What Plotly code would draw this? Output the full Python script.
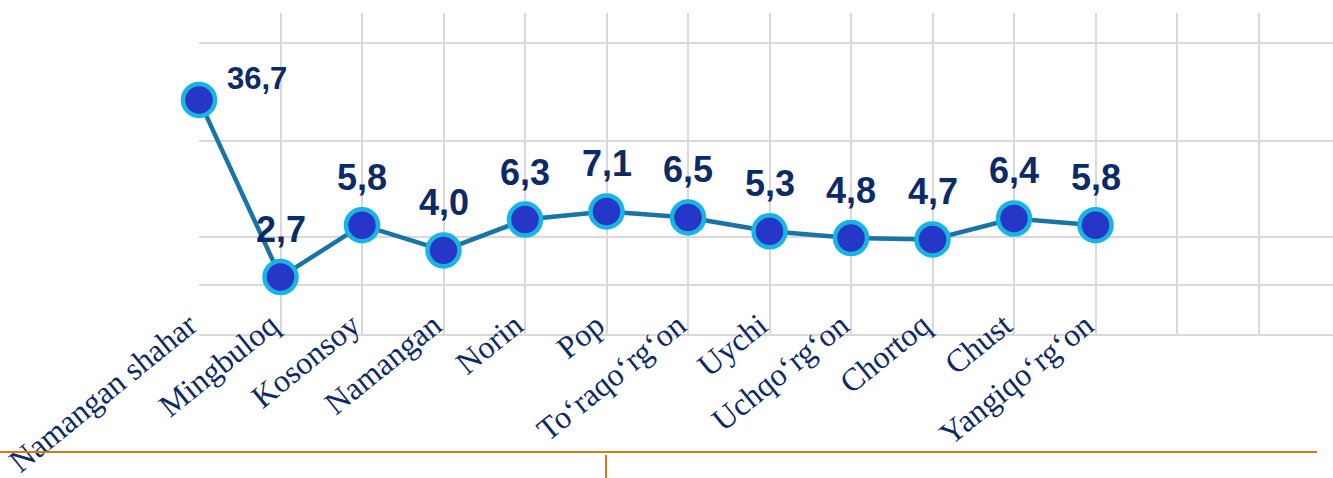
import math
import plotly.graph_objects as go

# Data
districts = ["Namangan shahar", "Mingbuloq", "Kosonsoy", "Namangan", "Norin", "Pop",
             "To‘raqo‘rg‘on", "Uychi", "Uchqo‘rg‘on", "Chortoq", "Chust", "Yangiqo‘rg‘on"]
values = [36.7, 2.7, 5.8, 4.0, 6.3, 7.1, 6.5, 5.3, 4.8, 4.7, 6.4, 5.8]
value_labels = [f"{v:.1f}".replace(".", ",") for v in values]

navy = "#0D2A68"
grid = "#D9D9D9"
orange = "#DA761C"

W, H = 1333, 478
L, T, B = 199, 13, 144
PW = W - L
PH = H - T - B

xs = list(range(len(districts)))

trace = go.Scatter(
    x=xs,
    y=values,
    mode="lines+markers",
    line=dict(color="#1874A6", width=4.5),
    marker=dict(size=32, color="#2637C8", line=dict(color="#17B4E4", width=4.5)),
    cliponaxis=False,
    hoverinfo="skip",
)

annotations = []
for i, (v, t) in enumerate(zip(values, value_labels)):
    # log axis: annotation y is given in log10 units
    if i == 0:
        annotations.append(dict(x=i, y=math.log10(v), xref="x", yref="y", yanchor="bottom",
                                xanchor="left", text=t, showarrow=False, xshift=26, yshift=2,
                                font=dict(family="Liberation Sans, Arial, sans-serif",
                                          size=31, color=navy, weight="bold")))
    else:
        annotations.append(dict(x=i, y=math.log10(v), xref="x", yref="y", yanchor="bottom",
                                xanchor="center", text=t, showarrow=False, yshift=25,
                                font=dict(family="Liberation Sans, Arial, sans-serif",
                                          size=36, color=navy, weight="bold")))

# extra empty grid columns to the right
tick_pos = list(range(len(districts) + 3))
tick_txt = districts + ["", "", ""]


def px(x):
    return (x - L) / PW


def py(y):
    return (T + PH - y) / PH


layout = dict(
    width=W,
    height=H,
    margin=dict(l=L, r=0, t=T, b=B),
    paper_bgcolor="white",
    plot_bgcolor="white",
    showlegend=False,
    xaxis=dict(
        range=[0, PW / 81.5],
        tickvals=tick_pos,
        ticktext=tick_txt,
        tickangle=-39,
        tickfont=dict(family="Liberation Serif, Times New Roman, serif", size=32, color=navy),
        ticklabelstandoff=-42,
        ticklabelshift=-10,
        showgrid=True,
        gridcolor=grid,
        gridwidth=2,
        showline=True,
        linecolor=grid,
        linewidth=2,
        zeroline=False,
        ticks="",
        automargin=False,
    ),
    yaxis=dict(
        type="log",
        range=[0.067, 2.121],
        tickvals=[2.4, 4.9, 20, 85],
        showticklabels=False,
        showgrid=True,
        gridcolor=grid,
        gridwidth=2,
        zeroline=False,
        ticks="",
        automargin=False,
    ),
    annotations=annotations,
    shapes=[
        dict(type="line", xref="paper", yref="paper",
             x0=px(0), x1=px(1317), y0=py(452), y1=py(452),
             line=dict(color=orange, width=2)),
        dict(type="line", xref="paper", yref="paper",
             x0=px(606), x1=px(606), y0=py(455), y1=py(480),
             line=dict(color=orange, width=2)),
    ],
)

fig = go.Figure(data=[trace], layout=layout)
# drop the default page margin so the figure sits at the window's corner
fig.write_html("out.html", config={"displayModeBar": False},
               post_script="document.body.style.margin='0';")
